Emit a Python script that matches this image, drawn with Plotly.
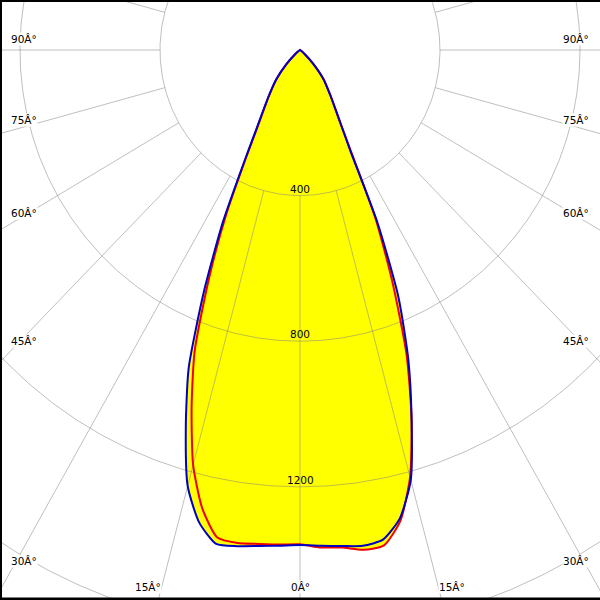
import numpy as np
import plotly.graph_objects as go

# ---- data (cd) ----
gamma = [0, 2.5, 5, 7.5, 10, 12.5, 15, 17.5, 20, 22.5, 25, 27.5, 30, 35, 40, 45, 50, 55, 60, 70, 80, 90]
c0   = [1360, 1363, 1368, 1374, 1366, 1318, 1223, 1060, 905, 735, 525, 310, 230, 150, 104, 52, 18, 4, 0, 0, 0, 0]
c180 = [1360, 1363, 1368, 1375, 1378, 1330, 1240, 1085, 930, 716, 521, 343, 246, 158, 106, 55, 20, 5, 0, 0, 0, 0]
c90  = [1358, 1368, 1372, 1385, 1382, 1325, 1215, 1060, 890, 690, 510, 320, 228, 150, 104, 52, 18, 4, 0, 0, 0, 0]
c270 = [1358, 1360, 1362, 1366, 1360, 1290, 1180, 1030, 880, 680, 500, 335, 240, 155, 104, 54, 20, 5, 0, 0, 0, 0]

circle_ticks = [400, 800, 1200, 1600, 2000]
circle_labels = ["400", "800", "1200"]
angle_ticks = [0, 15, 30, 45, 60, 75, 90]
radial_step = 15

# ---- frame / scale ----
W = H = 600
CX, CY = 300, 50          # pixel position of the pole
SX, SY = 0.35, 0.364      # px per cd
x_range = [-CX / SX, (W - CX) / SX]
y_range = [(H - CY) / SY, -CY / SY]   # reversed: 0 deg points down


def curve(left, right):
    g = np.radians(np.array(gamma, dtype=float))
    gl = -g[::-1]
    il = np.array(left, dtype=float)[::-1]
    gr = g[1:]
    ir = np.array(right, dtype=float)[1:]
    gg = np.concatenate([gl, gr])
    ii = np.concatenate([il, ir])
    return ii * np.sin(gg), ii * np.cos(gg)


bx, by = curve(c180, c0)
rx, ry = curve(c270, c90)

fig = go.Figure()
for cx_, cy_ in [(rx, ry), (bx, by)]:
    fig.add_trace(go.Scatter(x=cx_, y=cy_, mode="lines", fill="toself",
                             fillcolor="#ffff00", line=dict(width=0, shape="spline", smoothing=0.6),
                             hoverinfo="skip"))

# grid circles
t = np.linspace(0, 2 * np.pi, 721)
gx, gy = [], []
for r in circle_ticks:
    gx += list(r * np.sin(t)) + [None]
    gy += list(r * np.cos(t)) + [None]
# radial lines from first circle outward
for a in range(0, 360, radial_step):
    ar = np.radians(a)
    r0, r1 = circle_ticks[0], 3000
    gx += [r0 * np.sin(ar), r1 * np.sin(ar), None]
    gy += [r0 * np.cos(ar), r1 * np.cos(ar), None]
fig.add_trace(go.Scatter(x=gx, y=gy, mode="lines",
                         line=dict(color="rgba(128,128,128,0.5)", width=1), hoverinfo="skip"))

fig.add_trace(go.Scatter(x=rx, y=ry, mode="lines",
                         line=dict(color="#ee0000", width=2, shape="spline", smoothing=0.6)))
fig.add_trace(go.Scatter(x=bx, y=by, mode="lines",
                         line=dict(color="#0000c0", width=2, shape="spline", smoothing=0.6)))

font = dict(family="DejaVu Sans, Liberation Sans, sans-serif", size=10.5, color="black")
ann = []
for r, lab in zip(circle_ticks, circle_labels):
    ann.append(dict(x=0, y=r, xref="x", yref="y", text=lab, showarrow=False,
                    xanchor="center", yanchor="bottom", font=font, borderpad=0))

# angle labels where each angle line leaves the frame
side_x = (CX - 10) / SX
bottom_y = (H - 13 - CY) / SY
for a in angle_ticks:
    ar = np.radians(a)
    txt = f"{a}Â°"
    exit_y = x_range[1] * np.cos(ar) / max(np.sin(ar), 1e-9)
    if exit_y < y_range[0]:
        yy = side_x * np.cos(ar) / np.sin(ar)
        for sgn, anc in [(-1, "left"), (1, "right")]:
            ann.append(dict(x=sgn * side_x, y=yy, xref="x", yref="y", text=txt,
                            showarrow=False, xanchor=anc, yanchor="bottom", yshift=4,
                            font=font, bgcolor="white", borderpad=0))
    else:
        xx = bottom_y * np.tan(ar)
        if a == 0:
            ann.append(dict(x=0, y=bottom_y, xref="x", yref="y", text=txt, showarrow=False,
                            xanchor="center", yanchor="middle", font=font,
                            bgcolor="white", borderpad=0))
        else:
            for sgn, anc in [(-1, "right"), (1, "left")]:
                ann.append(dict(x=sgn * xx, y=bottom_y, xref="x", yref="y", text=txt,
                                showarrow=False, xanchor=anc, yanchor="middle", font=font,
                                bgcolor="white", borderpad=0))

shapes = [
    dict(type="line", xref="paper", yref="paper", x0=0, x1=1, y0=1, y1=1,
         line=dict(color="black", width=4)),
    dict(type="line", xref="paper", yref="paper", x0=0, x1=0, y0=0, y1=1,
         line=dict(color="black", width=4)),
    dict(type="line", xref="paper", yref="paper", x0=0, x1=1, y0=0, y1=0,
         line=dict(color="black", width=5)),
]

fig.update_layout(
    width=W, height=H, margin=dict(l=0, r=0, t=0, b=0),
    paper_bgcolor="white", plot_bgcolor="white", showlegend=False,
    xaxis=dict(range=x_range, visible=False, fixedrange=True),
    yaxis=dict(range=y_range, visible=False, fixedrange=True),
    annotations=ann, shapes=shapes,
)

fig.write_html("out.html", config={"displayModeBar": False},
               post_script="document.body.style.margin='0';document.body.style.overflow='hidden';")
